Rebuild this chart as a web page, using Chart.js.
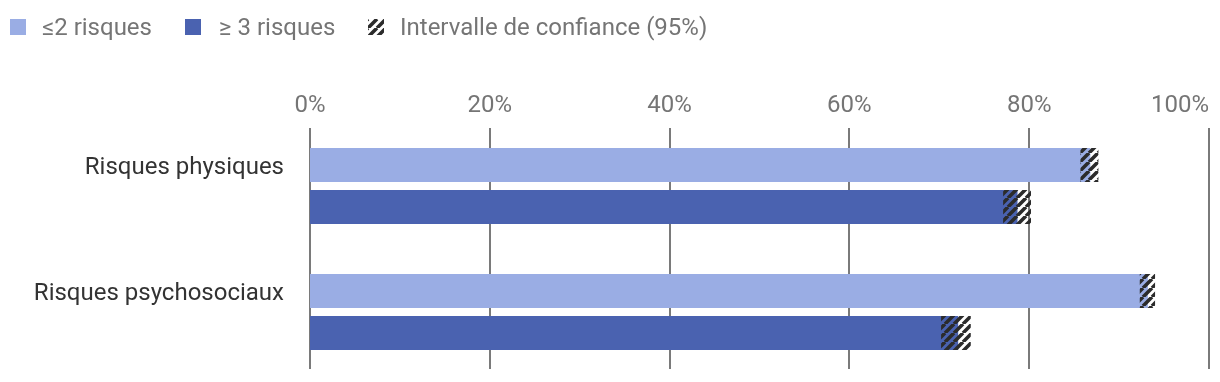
<!DOCTYPE html>
<html>
<head>
<meta charset="utf-8">
<script src="https://cdn.jsdelivr.net/npm/chart.js@4"></script>
<style>
  html, body { margin: 0; padding: 0; background: #fff; }
  #wrap { position: relative; width: 1220px; height: 382px; }
  #c { position: absolute; left: 0; top: 0; }
  .item { position: absolute; top: 13px; height: 28px; display: flex; align-items: center;
          white-space: nowrap; font-family: Roboto, sans-serif; font-size: 24px; color: #757575; }
  .sw { width: 16px; height: 16px; display: inline-block; }
  .item span.t { margin-left: 16px; }
</style>
</head>
<body>
<div id="wrap">
  <canvas id="c" width="1220" height="382"></canvas>
  <div class="item" style="left:10px"><i class="sw" id="sw0"></i><span class="t" id="lt0"></span></div>
  <div class="item" style="left:185px"><i class="sw" id="sw1"></i><span class="t" id="lt1" style="margin-left:18px"></span></div>
  <div class="item" style="left:368px"><canvas class="sw" id="sw2" width="16" height="16"></canvas><span class="t" id="lt2"></span></div>
</div>
<script>
const categories = ['Risques physiques', 'Risques psychosociaux'];
const seriesNames = ['≤2 risques', '≥ 3 risques', 'Intervalle de confiance (95%)'];
const lowRiskValues = [86.8, 93.2];
const highRiskValues = [78.7, 72.1];
const lowRiskCI = [[85.7, 87.7], [92.3, 94.0]];
const highRiskCI = [[77.1, 80.2], [70.2, 73.5]];
const xTickValues = [0, 20, 40, 60, 80, 100];

const LIGHT = '#9aade4';
const DARK = '#4a62b0';
const HATCH = '#2b2b2b';

function makeHatch(ctx) {
  const p = 9;
  const c = document.createElement('canvas');
  c.width = p; c.height = p;
  const g = c.getContext('2d');
  g.strokeStyle = HATCH;
  g.lineWidth = 3.6;
  g.beginPath();
  for (const o of [-p, 0, p]) { g.moveTo(o, p); g.lineTo(o + p, 0); }
  g.stroke();
  return ctx.createPattern(c, 'repeat');
}

// legend (HTML)
document.getElementById('sw0').style.background = LIGHT;
document.getElementById('sw1').style.background = DARK;
const swc = document.getElementById('sw2').getContext('2d');
swc.fillStyle = makeHatch(swc);
swc.fillRect(0, 0, 16, 16);
seriesNames.forEach((n, i) => { document.getElementById('lt' + i).textContent = n; });

Chart.defaults.font.family = 'Roboto, sans-serif';
Chart.defaults.font.size = 24;

const canvas = document.getElementById('c');
const ctx = canvas.getContext('2d');
const hatch = makeHatch(ctx);

const gridPlugin = {
  id: 'vgrid',
  beforeDatasetsDraw(chart) {
    const xs = chart.scales.x, a = chart.chartArea, c = chart.ctx;
    c.save();
    c.strokeStyle = '#7a7a7a';
    c.lineWidth = 2;
    const seen = new Set();
    for (const t of xs.ticks) {
      if (seen.has(t.value)) continue;
      seen.add(t.value);
      const px = Math.round(xs.getPixelForValue(t.value));
      c.beginPath();
      c.moveTo(px, a.top + 5);
      c.lineTo(px, a.bottom - 6);
      c.stroke();
    }
    c.restore();
  }
};

const barOpts = { barPercentage: 0.81, categoryPercentage: 0.667, borderWidth: 0 };

new Chart(ctx, {
  type: 'bar',
  data: {
    labels: categories,
    datasets: [
      Object.assign({ label: seriesNames[2], data: lowRiskCI, backgroundColor: hatch, stack: 'low', order: 0 }, barOpts),
      Object.assign({ label: seriesNames[2], data: highRiskCI, backgroundColor: hatch, stack: 'high', order: 0 }, barOpts),
      Object.assign({ label: seriesNames[0], data: lowRiskValues, backgroundColor: LIGHT, stack: 'low', order: 1 }, barOpts),
      Object.assign({ label: seriesNames[1], data: highRiskValues, backgroundColor: DARK, stack: 'high', order: 1 }, barOpts)
    ]
  },
  options: {
    indexAxis: 'y',
    responsive: false,
    animation: false,
    devicePixelRatio: 1,
    layout: { padding: { left: 0, right: 11, top: 0, bottom: 7 } },
    plugins: { legend: { display: false }, tooltip: { enabled: false } },
    scales: {
      x: {
        type: 'linear',
        position: 'top',
        stacked: false,
        min: 0,
        max: 100,
        grid: { display: false, drawTicks: false },
        border: { display: false },
        ticks: {
          align: 'inner',
          autoSkip: false,
          padding: 3,
          color: '#757575',
          font: { size: 24 },
          callback: (v, i) => (i === 0 ? '' : v + '%')
        },
        afterBuildTicks: s => {
          s.ticks = [{ value: xTickValues[0] }].concat(xTickValues.map(v => ({ value: v })));
        },
        afterFit: s => { s.height = 123; s.paddingLeft = 0; s.paddingRight = 0; }
      },
      y: {
        type: 'category',
        offset: true,
        grid: { display: false, drawTicks: false },
        border: { display: false },
        ticks: { color: '#333333', font: { size: 24 }, padding: 26, labelOffset: -18 },
        afterFit: s => { s.width = 310; s.paddingTop = 0; s.paddingBottom = 0; }
      }
    }
  },
  plugins: [gridPlugin]
});
</script>
</body>
</html>
